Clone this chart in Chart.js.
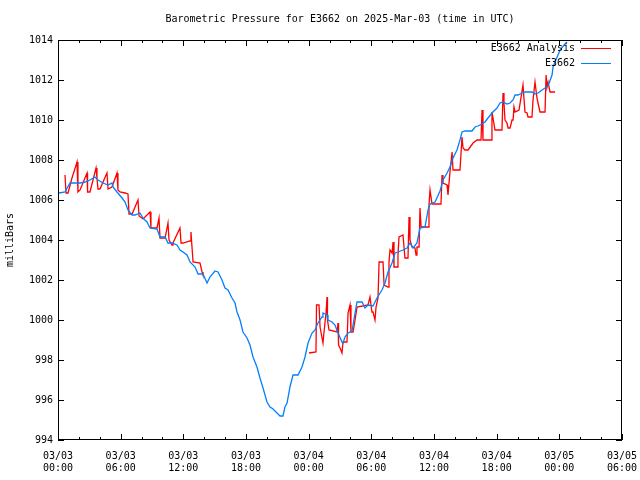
<!DOCTYPE html>
<html>
<head>
<meta charset="utf-8">
<title>Barometric Pressure E3662</title>
<script src="https://cdn.jsdelivr.net/npm/chart.js@4/dist/chart.umd.min.js"></script>
<style>
html, body { margin: 0; padding: 0; background: #fff; }
</style>
</head>
<body>
<canvas id="myChart" width="640" height="480"></canvas>
<script>
// hours after 03/03 00:00 UTC, pressure in millibars
var stationHours = [0.10,0.67,1.15,2.11,2.59,3.06,3.54,3.83,4.31,4.79,5.17,5.27,5.65,6.13,6.42,6.70,7.09,7.37,7.85,8.14,8.52,8.81,9.48,9.77,10.25,10.53,10.92,11.39,11.68,11.97,12.35,12.64,13.12,13.41,13.88,14.27,14.55,15.03,15.32,15.70,15.99,16.28,16.66,16.95,17.14,17.43,17.71,18.10,18.38,18.67,19.05,19.34,19.63,20.01,20.30,20.59,20.97,21.26,21.54,21.73,21.93,22.21,22.50,22.98,23.36,23.65,23.94,24.32,24.61,24.89,25.28,25.37,25.76,25.85,26.24,26.52,26.81,27.19,27.29,27.48,27.77,28.15,28.44,28.63,29.11,29.39,29.68,30.16,30.54,31.02,31.31,31.60,31.98,32.27,32.55,33.03,33.42,33.70,33.99,34.37,34.66,35.14,35.43,35.62,36.10,36.58,36.86,37.25,37.53,37.82,38.20,38.49,38.68,38.97,39.64,39.93,40.21,40.60,40.88,41.17,41.55,42.03,42.32,42.61,42.99,43.28,43.57,43.76,44.04,44.43,44.71,45.38,45.67,45.96,46.34,46.63,46.92,47.30,47.40,47.59,48.07,48.54,48.74];
var stationValues = [1006.35,1006.40,1006.85,1006.85,1006.90,1007.00,1007.15,1007.00,1006.85,1006.75,1006.85,1006.65,1006.40,1006.10,1005.90,1005.50,1005.25,1005.25,1005.35,1005.10,1004.90,1004.60,1004.55,1004.15,1004.15,1003.85,1003.85,1003.75,1003.50,1003.40,1003.25,1002.90,1002.65,1002.30,1002.30,1001.85,1002.15,1002.45,1002.40,1002.00,1001.60,1001.50,1001.10,1000.85,1000.40,1000.00,999.40,999.10,998.75,998.15,997.65,997.10,996.60,995.90,995.65,995.55,995.35,995.20,995.20,995.65,995.85,996.65,997.25,997.25,997.65,998.15,998.85,999.35,999.50,999.85,1000.15,1000.35,1000.25,1000.00,999.90,999.75,999.35,998.90,998.85,999.15,999.35,999.45,1000.35,1000.90,1000.90,1000.60,1000.75,1000.70,1001.10,1001.50,1001.85,1002.40,1002.85,1003.35,1003.40,1003.50,1003.60,1003.85,1003.60,1003.85,1004.60,1004.65,1005.50,1005.80,1005.90,1006.45,1007.00,1007.35,1007.65,1008.10,1008.50,1009.00,1009.40,1009.45,1009.45,1009.65,1009.70,1009.80,1009.90,1010.10,1010.35,1010.60,1010.85,1010.90,1010.80,1010.85,1011.00,1011.25,1011.25,1011.35,1011.40,1011.40,1011.30,1011.35,1011.50,1011.60,1011.70,1012.25,1012.65,1012.90,1013.50,1013.80,1013.90];

// analysis series, null marks the gap between the two runs
var analysisHours = [0.67,0.77,0.96,1.34,1.82,1.91,2.11,2.78,2.83,3.06,3.64,3.73,3.83,4.02,4.69,4.79,5.17,5.65,5.74,5.94,6.42,6.70,6.80,7.09,7.66,7.76,8.14,8.81,8.90,9.48,9.67,9.77,10.25,10.53,10.63,10.92,11.01,11.68,11.78,11.97,12.64,12.73,12.83,12.93,13.60,13.79,13.88,
  19.00,
  24.03,24.70,24.75,24.99,25.09,25.37,25.47,25.66,25.76,25.80,25.95,26.71,26.81,26.86,27.00,27.19,27.29,27.67,27.77,27.96,28.05,28.25,28.44,28.63,29.68,29.87,30.06,30.16,30.35,30.45,30.64,30.74,31.12,31.22,31.60,31.69,31.79,31.98,32.08,32.17,32.46,32.55,32.65,33.03,33.22,33.51,33.61,33.70,33.90,34.18,34.28,34.37,34.57,34.66,34.76,35.43,35.52,35.62,35.81,36.67,36.77,36.86,37.25,37.34,37.53,37.73,37.82,38.49,38.68,38.78,38.97,39.26,39.74,40.12,40.50,40.60,40.69,41.46,41.55,41.65,41.84,42.51,42.61,42.70,42.80,42.99,43.09,43.28,43.47,43.57,43.66,43.76,44.14,44.52,44.71,44.91,45.00,45.38,45.48,45.67,45.86,45.96,46.15,46.63,46.73,46.82,46.92,47.11,47.59];
var analysisValues = [1007.25,1006.35,1006.35,1007.10,1007.90,1006.40,1006.50,1007.35,1006.40,1006.40,1007.60,1007.10,1006.55,1006.55,1007.35,1006.55,1006.65,1007.35,1006.50,1006.40,1006.35,1006.30,1005.30,1005.30,1006.00,1005.20,1005.05,1005.40,1004.60,1004.60,1005.10,1004.10,1004.10,1004.85,1004.00,1003.75,1003.85,1004.60,1003.85,1003.85,1003.95,1004.40,1003.65,1002.90,1002.85,1002.40,1002.25,
  null,
  998.35,998.40,1000.75,1000.75,999.65,998.85,999.40,1000.35,1001.15,1000.00,999.50,999.40,999.85,998.75,998.60,998.35,998.90,998.90,1000.35,1000.75,999.40,999.40,1000.00,1000.65,1000.75,1001.15,1000.40,1000.40,1000.00,1000.65,1001.10,1002.90,1002.90,1001.75,1001.65,1002.90,1003.50,1003.35,1003.90,1002.65,1002.65,1003.25,1004.15,1004.25,1003.10,1003.10,1005.15,1004.00,1003.65,1003.60,1003.25,1003.65,1003.65,1005.60,1004.65,1004.65,1005.75,1006.50,1005.80,1005.80,1007.25,1006.85,1006.75,1006.25,1007.40,1008.40,1007.50,1007.50,1009.15,1008.60,1008.50,1008.50,1008.85,1009.00,1009.00,1010.50,1009.00,1009.00,1010.40,1010.10,1009.50,1009.50,1011.35,1010.85,1010.00,1009.85,1009.60,1009.60,1010.00,1010.00,1010.65,1010.40,1010.50,1011.75,1010.40,1010.35,1010.15,1010.15,1011.00,1011.90,1011.10,1010.85,1010.40,1010.40,1012.25,1011.65,1011.90,1011.40,1011.40];

var chartTitle = 'Barometric Pressure for E3662 on 2025-Mar-03 (time in UTC)';
var seriesLabels = ['E3662 Analysis', 'E3662'];
var seriesColors = ['#ff0000', '#0080ff'];
var xMin = 0, xMax = 54, xStep = 6, xMinorStep = 2;
var yMin = 994, yMax = 1014, yStep = 2;
var startDay = 3;
var monoFont = "'DejaVu Sans Mono', 'Liberation Mono', monospace";

function toPoints(xs, ys) {
	var pts = [];
	for (var i = 0; i < xs.length; i++) pts.push({ x: xs[i], y: ys[i] });
	return pts;
}

function pad2(n) { return (n < 10 ? '0' : '') + n; }

function timeLabel(v) {
	var day = startDay + Math.floor(v / 24);
	var hr = v % 24;
	return ['03/' + pad2(day), pad2(hr) + ':00'];
}

// gnuplot style frame, inward ticks on all four sides, title over the plot and key in the top right
var gnuFrame = {
	id: 'gnuFrame',
	afterDraw: function (chart) {
		var c = chart.ctx, a = chart.chartArea;
		var xs = chart.scales.x, ys = chart.scales.y;
		c.save();
		c.strokeStyle = '#000';
		c.lineWidth = 1;
		c.strokeRect(a.left + 0.5, a.top + 0.5, a.right - a.left - 1, a.bottom - a.top - 1);
		c.beginPath();
		for (var h = xMin; h <= xMax; h += xMinorStep) {
			var px = Math.round(xs.getPixelForValue(h)) + 0.5;
			var len = (h % xStep === 0) ? 6 : 3;
			c.moveTo(px, a.bottom); c.lineTo(px, a.bottom - len);
			c.moveTo(px, a.top); c.lineTo(px, a.top + len);
		}
		for (var v = yMin; v <= yMax; v += yStep) {
			var py = Math.round(ys.getPixelForValue(v)) + 0.5;
			c.moveTo(a.left, py); c.lineTo(a.left + 6, py);
			c.moveTo(a.right, py); c.lineTo(a.right - 6, py);
		}
		c.stroke();

		c.font = '10px ' + monoFont;
		c.fillStyle = '#000';
		c.textAlign = 'center';
		c.textBaseline = 'middle';
		c.fillText(chartTitle, (a.left + a.right) / 2, 19);

		c.textAlign = 'right';
		chart.data.datasets.forEach(function (ds, i) {
			var ty = a.top + 8 + i * 15;
			c.fillText(ds.label, a.right - 47, ty);
			c.strokeStyle = ds.borderColor;
			c.beginPath();
			c.moveTo(a.right - 41, Math.round(ty) + 0.5);
			c.lineTo(a.right - 11, Math.round(ty) + 0.5);
			c.stroke();
		});
		c.restore();
	}
};

var ctx = document.getElementById('myChart');
var myChart = new Chart(ctx, {
	type: 'line',
	data: {
		datasets: [{
			label: seriesLabels[0],
			data: toPoints(analysisHours, analysisValues),
			borderColor: seriesColors[0],
			borderWidth: 1.3,
			pointRadius: 0,
			tension: 0,
			spanGaps: false,
			order: 1
		}, {
			label: seriesLabels[1],
			data: toPoints(stationHours, stationValues),
			borderColor: seriesColors[1],
			borderWidth: 1.3,
			pointRadius: 0,
			tension: 0,
			order: 0
		}]
	},
	options: {
		responsive: false,
		maintainAspectRatio: false,
		animation: false,
		layout: { padding: { left: 0, right: 18, top: 40, bottom: 0 } },
		plugins: {
			legend: { display: false },
			tooltip: { enabled: false },
			title: { display: false }
		},
		scales: {
			x: {
				type: 'linear',
				min: xMin,
				max: xMax,
				grid: { display: false, drawTicks: false },
				border: { display: false },
				ticks: {
					stepSize: xStep,
					autoSkip: false,
					maxRotation: 0,
					padding: 10,
					color: '#000',
					font: { family: monoFont, size: 10 },
					callback: function (v) { return timeLabel(v); }
				},
				afterFit: function (scale) {
					scale.height = 40;
					scale.paddingLeft = 0;
					scale.paddingRight = 0;
				}
			},
			y: {
				min: yMin,
				max: yMax,
				grid: { display: false, drawTicks: false },
				border: { display: false },
				ticks: {
					stepSize: yStep,
					padding: 5,
					color: '#000',
					font: { family: monoFont, size: 10 },
					callback: function (v) { return String(v); }
				},
				title: {
					display: true,
					text: 'milliBars',
					color: '#000',
					font: { family: monoFont, size: 10 },
					padding: { top: 4, bottom: 0 }
				},
				afterFit: function (scale) {
					scale.width = 58;
					scale.paddingTop = 0;
					scale.paddingBottom = 0;
				}
			}
		}
	},
	plugins: [gnuFrame]
});
</script>
</body>
</html>
